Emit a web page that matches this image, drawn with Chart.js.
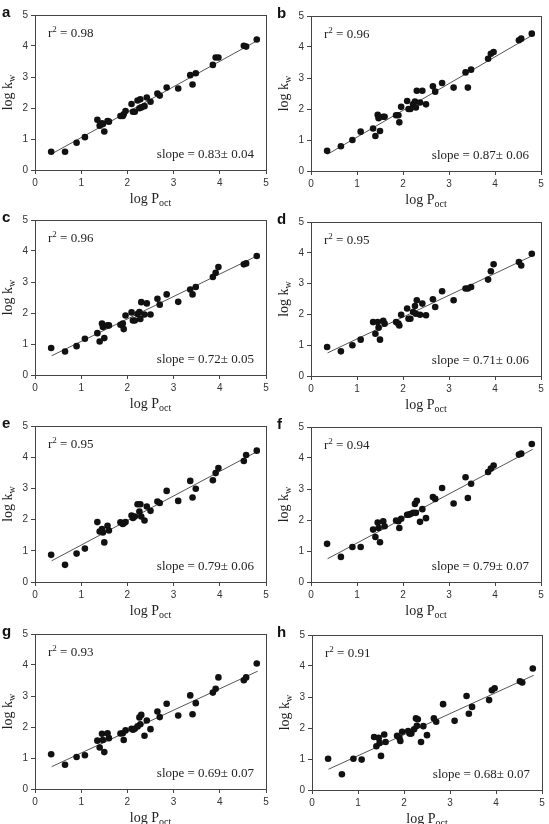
<!DOCTYPE html>
<html lang="en">
<head>
<meta charset="UTF-8">
<title>log kw vs log Poct</title>
<script src="https://cdn.jsdelivr.net/npm/chart.js"></script>
<style>
  body { margin: 0; background: #fff; }
  #page { position: relative; width: 549px; height: 824px; overflow: hidden; }
  #page canvas { position: absolute; }
</style>
</head>
<body>
<div id="page"></div>
<script>
// log P_oct of the compounds (same set in every panel)
const logPoct = [0.35, 0.65, 0.9, 1.08, 1.35, 1.4, 1.45, 1.47, 1.5, 1.57, 1.6, 1.85, 1.9, 1.92, 1.96,
  2.09, 2.12, 2.16, 2.22, 2.26, 2.28, 2.3, 2.37, 2.42, 2.5, 2.65, 2.7, 2.85, 3.1, 3.36, 3.41, 3.48,
  3.85, 3.91, 3.97, 4.52, 4.57, 4.8];

// log k_w for each panel
const kwA = [0.59, 0.59, 0.88, 1.06, 1.62, 1.43, 1.51, 1.48, 1.24, 1.58, 1.56, 1.74, 1.74, 1.80, 1.90,
  2.13, 1.88, 1.88, 2.24, 1.99, 2.28, 2.02, 2.06, 2.34, 2.20, 2.47, 2.40, 2.66, 2.63, 3.06, 2.76, 3.12,
  3.39, 3.63, 3.63, 4.01, 3.98, 4.21];
const kwB = [0.65, 0.80, 1.00, 1.27, 1.37, 1.13, 1.81, 1.70, 1.29, 1.75, 1.75, 1.80, 1.80, 1.57, 2.07,
  2.26, 2.00, 2.00, 2.15, 2.24, 2.05, 2.59, 2.21, 2.59, 2.15, 2.73, 2.56, 2.84, 2.69, 3.18, 2.69, 3.27,
  3.62, 3.78, 3.84, 4.22, 4.27, 4.43];
const kwC = [0.87, 0.76, 0.93, 1.17, 1.35, 1.08, 1.66, 1.55, 1.19, 1.60, 1.60, 1.62, 1.66, 1.48, 1.92,
  2.02, 1.76, 1.76, 1.97, 2.03, 1.81, 2.35, 1.95, 2.31, 1.95, 2.46, 2.27, 2.60, 2.36, 2.76, 2.60, 2.84,
  3.16, 3.30, 3.48, 3.57, 3.60, 3.84];
const kwD = [0.94, 0.80, 1.00, 1.18, 1.75, 1.37, 1.75, 1.57, 1.18, 1.79, 1.70, 1.75, 1.70, 1.64, 1.99,
  2.19, 1.86, 1.86, 2.08, 2.27, 2.02, 2.46, 1.99, 2.35, 1.97, 2.49, 2.24, 2.75, 2.46, 2.84, 2.84, 2.89,
  3.13, 3.40, 3.63, 3.70, 3.59, 3.97];
const kwE = [0.87, 0.55, 0.91, 1.07, 1.92, 1.62, 1.70, 1.59, 1.27, 1.80, 1.65, 1.91, 1.86, 1.88, 1.92,
  2.13, 2.05, 2.10, 2.49, 2.26, 2.49, 2.10, 1.97, 2.42, 2.28, 2.58, 2.53, 2.92, 2.60, 3.24, 2.71, 2.99,
  3.26, 3.49, 3.65, 3.88, 4.07, 4.21];
const kwF = [1.23, 0.81, 1.13, 1.13, 1.69, 1.45, 1.92, 1.74, 1.28, 1.96, 1.80, 1.98, 1.96, 1.74, 2.04,
  2.17, 2.17, 2.19, 2.23, 2.52, 2.23, 2.62, 1.94, 2.35, 2.06, 2.74, 2.68, 3.03, 2.53, 3.38, 2.71, 3.17,
  3.55, 3.66, 3.76, 4.11, 4.14, 4.45];
const kwG = [1.12, 0.78, 1.03, 1.09, 1.56, 1.34, 1.78, 1.58, 1.19, 1.80, 1.64, 1.79, 1.80, 1.58, 1.89,
  1.94, 1.91, 1.94, 2.02, 2.31, 2.09, 2.39, 1.72, 2.21, 1.93, 2.50, 2.32, 2.75, 2.37, 3.02, 2.41, 2.77,
  3.11, 3.23, 3.60, 3.51, 3.60, 4.05];
const kwH = [1.01, 0.51, 1.01, 0.98, 1.71, 1.41, 1.68, 1.52, 1.10, 1.79, 1.55, 1.75, 1.68, 1.58, 1.88,
  1.90, 1.82, 1.82, 1.96, 2.31, 2.07, 2.28, 1.55, 2.06, 1.77, 2.31, 2.20, 2.77, 2.23, 3.03, 2.46, 2.68,
  2.90, 3.22, 3.28, 3.51, 3.47, 3.92];

const panelLetters = ['a', 'b', 'c', 'd', 'e', 'f', 'g', 'h'];
const r2Values = ['0.98', '0.96', '0.96', '0.95', '0.95', '0.94', '0.93', '0.91'];
const slopeValues = ['0.83', '0.87', '0.72', '0.71', '0.79', '0.79', '0.69', '0.68'];
const slopeErrors = ['0.04', '0.06', '0.05', '0.06', '0.06', '0.07', '0.07', '0.07'];

// regression line ends
const fitX = [0.36, 4.82];
const fitYStart = [0.52, 0.54, 0.62, 0.75, 0.68, 0.75, 0.72, 0.67];
const fitYEnd = [4.18, 4.39, 3.85, 3.91, 4.19, 4.28, 3.80, 3.70];

const axisTicks = [0, 1, 2, 3, 4, 5];

const series = [kwA, kwB, kwC, kwD, kwE, kwF, kwG, kwH];

// layout (page pixels); canvases overlap a little so descenders are not cut
const colLeft = [0, 274], colWidth = [274, 275];
const rowTop = [0, 205, 411, 617], rowHeight = [214, 214, 214, 207];
const plotBoxes = [
  [35, 15, 266, 170], [311, 16, 541, 171],
  [35, 220, 266, 375], [311, 222, 541, 376],
  [35, 426, 266, 582], [311, 427, 541, 582],
  [35, 634, 266, 789], [312, 635, 542, 790]
];

const sans = '"Liberation Sans", Arial, sans-serif';
const serif = '"Liberation Serif", "Times New Roman", serif';

function drawRuns(ctx, runs, x, y, align) {
  let total = 0;
  runs.forEach(r => {
    ctx.font = r.size + 'px ' + serif;
    r.w = ctx.measureText(r.text).width;
    total += r.w;
  });
  let cx = align === 'center' ? x - total / 2 : align === 'right' ? x - total : x;
  ctx.textAlign = 'left';
  ctx.textBaseline = 'alphabetic';
  runs.forEach(r => {
    ctx.font = r.size + 'px ' + serif;
    ctx.fillText(r.text, cx, y + (r.dy || 0));
    cx += r.w;
  });
}

const framePlugin = {
  id: 'frame',
  beforeDatasetsDraw(chart) {
    const a = chart.chartArea, ctx = chart.ctx;
    ctx.save();
    ctx.strokeStyle = '#444';
    ctx.lineWidth = 1;
    ctx.strokeRect(a.left + 0.5, a.top + 0.5, a.right - a.left, a.bottom - a.top);
    ctx.restore();
  }
};

const labelPlugin = {
  id: 'labels',
  afterDraw(chart) {
    const i = chart.options.panelIndex;
    const a = chart.chartArea, ctx = chart.ctx;
    ctx.save();
    ctx.fillStyle = '#111';
    // panel letter
    ctx.font = 'bold 15px ' + sans;
    ctx.textAlign = 'left';
    ctx.textBaseline = 'alphabetic';
    ctx.fillText(panelLetters[i], (i % 2) ? 3 : 2, a.top + 2);
    // annotations
    ctx.fillStyle = '#222';
    drawRuns(ctx, [{ text: 'r', size: 13 }, { text: '2', size: 9, dy: -5 }, { text: ' = ' + r2Values[i], size: 13 }],
      a.left + 13, a.top + 22, 'left');
    drawRuns(ctx, [{ text: 'slope = ' + slopeValues[i] + '\u00b1 ' + slopeErrors[i], size: 13 }],
      a.right - 12, a.bottom - 12, 'right');
    // axis titles
    drawRuns(ctx, [{ text: 'log P', size: 14 }, { text: 'oct', size: 10, dy: 3 }],
      (a.left + a.right) / 2, a.bottom + 33, 'center');
    ctx.save();
    ctx.translate(a.left - 23, (a.top + a.bottom) / 2);
    ctx.rotate(-Math.PI / 2);
    drawRuns(ctx, [{ text: 'log k', size: 14 }, { text: 'w', size: 10, dy: 3 }], 0, 0, 'center');
    ctx.restore();
    ctx.restore();
  }
};

const page = document.getElementById('page');

series.forEach((kw, i) => {
  const col = i % 2, row = Math.floor(i / 2);
  const cl = colLeft[col], cw = colWidth[col], ct = rowTop[row], chh = rowHeight[row];
  const box = plotBoxes[i];
  const canvas = document.createElement('canvas');
  canvas.width = cw;
  canvas.height = chh;
  canvas.style.left = cl + 'px';
  canvas.style.top = ct + 'px';
  canvas.style.width = cw + 'px';
  canvas.style.height = chh + 'px';
  page.appendChild(canvas);

  const points = logPoct.map((x, k) => ({ x: x, y: kw[k] }));
  const fitLine = [{ x: fitX[0], y: fitYStart[i] }, { x: fitX[1], y: fitYEnd[i] }];

  const tickOpts = {
    color: '#333',
    font: { family: sans, size: 10 },
    padding: 3,
    stepSize: 1,
    autoSkip: false,
    maxRotation: 0
  };

  new Chart(canvas.getContext('2d'), {
    type: 'scatter',
    data: {
      datasets: [
        {
          data: points,
          backgroundColor: '#111',
          borderWidth: 0,
          pointRadius: 3.3,
          order: 1
        },
        {
          type: 'line',
          data: fitLine,
          borderColor: '#555',
          borderWidth: 1,
          pointRadius: 0,
          fill: false,
          order: 2
        }
      ]
    },
    options: {
      panelIndex: i,
      responsive: false,
      animation: false,
      devicePixelRatio: 1,
      layout: {
        padding: { left: 0, top: box[1] - ct, right: cl + cw - box[2], bottom: 0 }
      },
      plugins: { legend: { display: false }, tooltip: { enabled: false } },
      scales: {
        x: {
          type: 'linear',
          min: axisTicks[0],
          max: axisTicks[axisTicks.length - 1],
          afterBuildTicks: s => { s.ticks = axisTicks.map(v => ({ value: v })); },
          afterFit: s => { s.height = ct + chh - box[3]; },
          ticks: tickOpts,
          grid: { drawOnChartArea: false, drawTicks: true, tickLength: 4, color: '#444' },
          border: { display: true, color: '#444' }
        },
        y: {
          type: 'linear',
          min: axisTicks[0],
          max: axisTicks[axisTicks.length - 1],
          afterBuildTicks: s => { s.ticks = axisTicks.map(v => ({ value: v })); },
          afterFit: s => { s.width = box[0] - cl; },
          ticks: Object.assign({}, tickOpts, { padding: 3 }),
          grid: { drawOnChartArea: false, drawTicks: true, tickLength: 4, color: '#444' },
          border: { display: true, color: '#444' }
        }
      }
    },
    plugins: [framePlugin, labelPlugin]
  });
});
</script>
</body>
</html>
